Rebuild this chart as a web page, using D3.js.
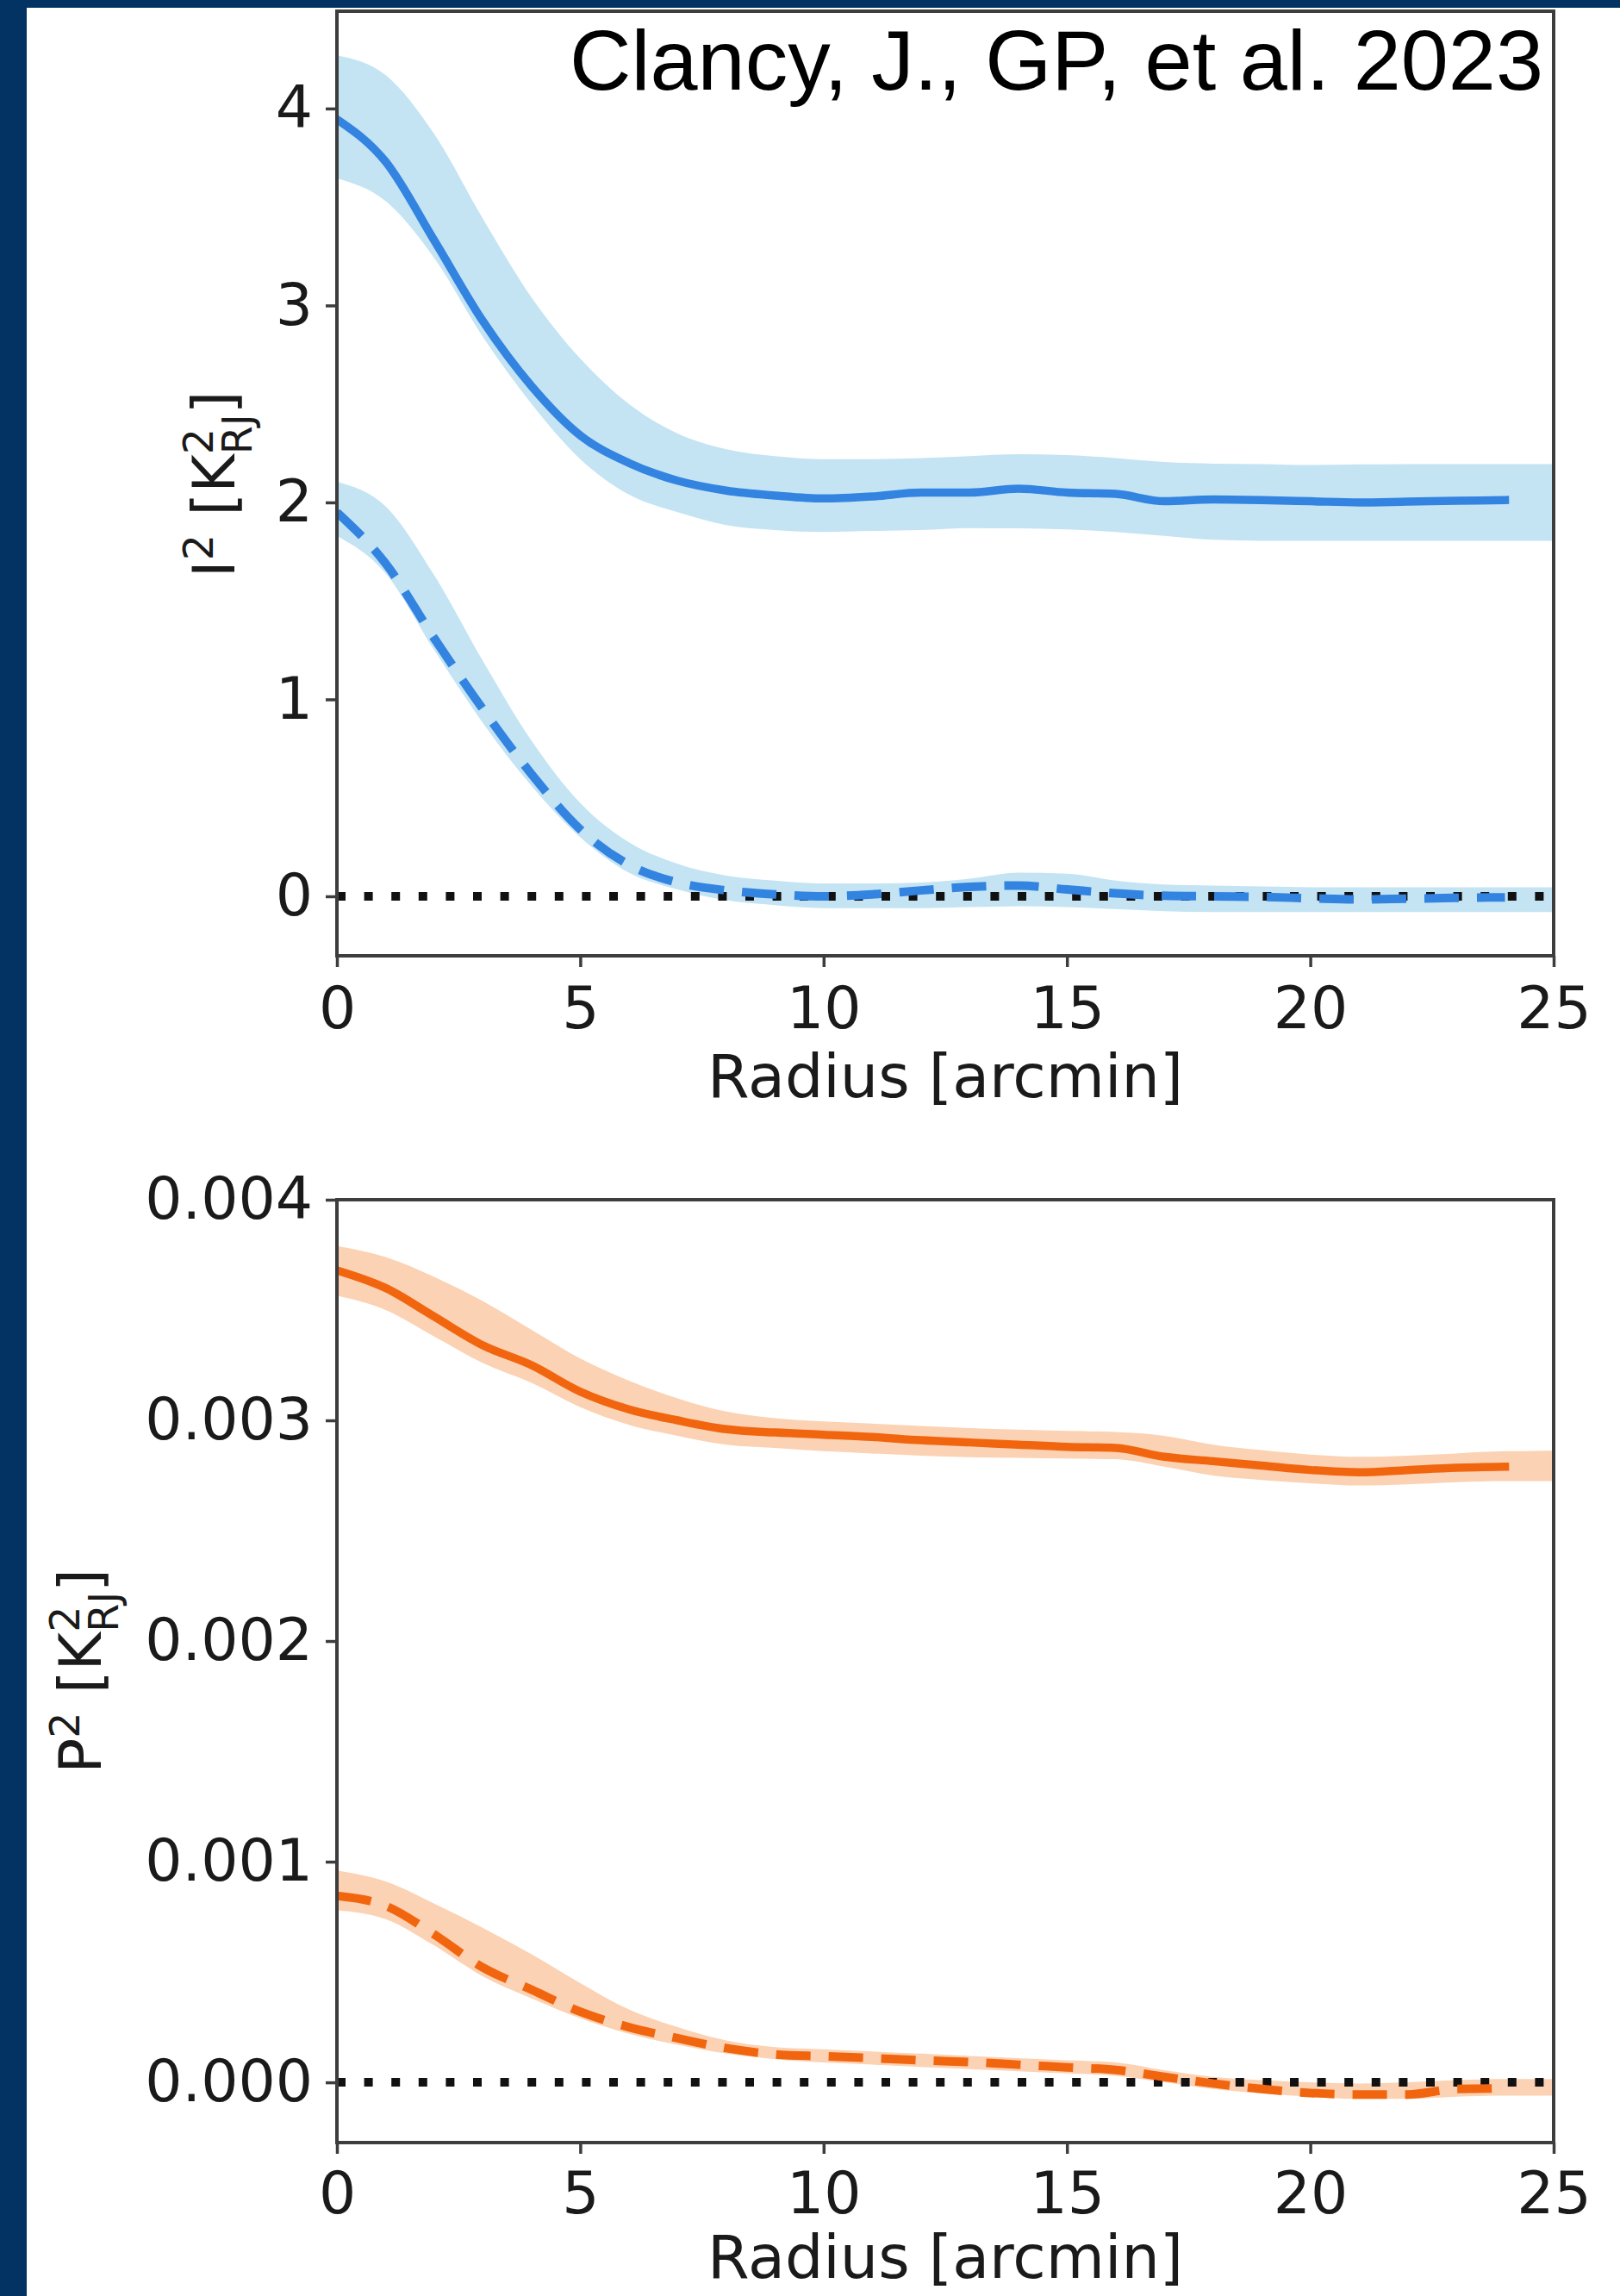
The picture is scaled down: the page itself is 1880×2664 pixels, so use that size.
<!DOCTYPE html>
<html>
<head>
<meta charset="utf-8">
<script src="https://cdn.jsdelivr.net/npm/d3@7"></script>
<style>
  html, body { margin: 0; padding: 0; background: #ffffff; }
  svg { display: block; }
</style>
</head>
<body>
<svg id="fig" width="1880" height="2664"></svg>
<script>
// Radial profiles (radius in arcmin)
const radius = d3.range(0, 25);       // line samples 0..24
const bandRadius = d3.range(0, 26);   // band samples 0..25

// Total intensity I^2 [K_RJ^2]
const intensitySolid = [3.945, 3.73, 3.33, 2.92, 2.59, 2.34, 2.20, 2.11, 2.06, 2.035, 2.02, 2.03, 2.05,
  2.05, 2.07, 2.05, 2.043, 2.006, 2.015, 2.012, 2.006, 2.0, 2.004, 2.008, 2.012];
const intensitySolidHi = [4.27, 4.17, 3.87, 3.44, 3.04, 2.73, 2.50, 2.35, 2.27, 2.235, 2.22, 2.22, 2.225,
  2.235, 2.245, 2.24, 2.225, 2.205, 2.197, 2.195, 2.19, 2.193, 2.195, 2.195, 2.195, 2.195];
const intensitySolidLo = [3.645, 3.53, 3.24, 2.84, 2.50, 2.22, 2.04, 1.95, 1.885, 1.86, 1.85, 1.855, 1.86,
  1.87, 1.868, 1.863, 1.85, 1.83, 1.81, 1.805, 1.805, 1.805, 1.805, 1.805, 1.805, 1.805];

const intensityDashed = [1.95, 1.69, 1.31, 0.95, 0.62, 0.34, 0.16, 0.07, 0.03, 0.01, 0.0, 0.01, 0.03,
  0.048, 0.055, 0.035, 0.015, 0.003, 0.0, -0.003, -0.01, -0.016, -0.012, -0.008, -0.005];
const intensityDashedHi = [2.105, 1.98, 1.63, 1.195, 0.79, 0.474, 0.275, 0.165, 0.105, 0.08, 0.066, 0.066, 0.07,
  0.09, 0.12, 0.115, 0.08, 0.06, 0.055, 0.05, 0.046, 0.046, 0.046, 0.046, 0.046, 0.046];
const intensityDashedLo = [1.83, 1.64, 1.25, 0.88, 0.56, 0.30, 0.12, 0.035, -0.02, -0.045, -0.06, -0.06, -0.06,
  -0.055, -0.05, -0.055, -0.065, -0.075, -0.08, -0.08, -0.08, -0.08, -0.08, -0.08, -0.08, -0.08];

// Polarised intensity P^2 [K_RJ^2]
const polSolid = [0.00368, 0.00360, 0.00347, 0.00334, 0.00325, 0.00313, 0.00305, 0.00300, 0.00296, 0.002945,
  0.002935, 0.002925, 0.00291, 0.00290, 0.00289, 0.00288, 0.002875, 0.002835, 0.002815, 0.002795,
  0.002775, 0.002765, 0.002775, 0.002785, 0.00279];
const polSolidHi = [0.00379, 0.00374, 0.00365, 0.00354, 0.00341, 0.00328, 0.00318, 0.00310, 0.00304, 0.00301,
  0.002995, 0.002985, 0.002975, 0.002965, 0.002958, 0.002952, 0.002947, 0.00293, 0.00289, 0.002865,
  0.002845, 0.002835, 0.00284, 0.00285, 0.00286, 0.002862];
const polSolidLo = [0.003565, 0.00350, 0.00338, 0.00326, 0.00317, 0.00306, 0.00298, 0.00293, 0.00289, 0.002875,
  0.00286, 0.00285, 0.00284, 0.002833, 0.00283, 0.002827, 0.002824, 0.00279, 0.00275, 0.00273,
  0.002715, 0.002705, 0.00271, 0.00272, 0.002725, 0.002725];

const polDashed = [0.000845, 0.00080, 0.00067, 0.00052, 0.00042, 0.00032, 0.00025, 0.00020, 0.000155, 0.000127,
  0.000118, 0.00011, 0.00010, 0.000092, 0.00008, 0.000068, 0.000056, 0.000025, -0.000005, -0.00003,
  -0.000048, -0.000055, -0.000055, -0.00003, -0.000028];
const polDashedHi = [0.00096, 0.00091, 0.00081, 0.00070, 0.00058, 0.00045, 0.00033, 0.00025, 0.00019, 0.00016,
  0.00015, 0.00014, 0.00013, 0.00012, 0.00011, 0.00010, 0.00009, 0.000055, 0.000025, 0.00001,
  0.0, -0.000005, 0.0, 0.00001, 0.000015, 0.000015];
const polDashedLo = [0.00078, 0.00074, 0.00062, 0.00048, 0.00038, 0.00029, 0.00022, 0.00017, 0.00013, 0.000105,
  0.00009, 0.00008, 0.00007, 0.00006, 0.00005, 0.00004, 0.00003, 0.0, -0.00003, -0.00005,
  -0.000065, -0.000075, -0.000075, -0.000065, -0.00006, -0.00006];

// Ticks
const xTicks = [0, 5, 10, 15, 20, 25];
const intensityTicks = [0, 1, 2, 3, 4];
const polTicks = [0, 0.001, 0.002, 0.003, 0.004];

// Colours
const navy = "#023362";
const blueLine = "#3383e1";
const blueBand = "#c4e4f3";
const orangeLine = "#f2650f";
const orangeBand = "#fbd2b4";
const spineColor = "#3d3d3d";
const textFont = "'DejaVu Sans', sans-serif";

const svg = d3.select("#fig");

// Slide frame: navy strips on the left and top
svg.append("rect").attr("x", 0).attr("y", 0).attr("width", 1880).attr("height", 2664).attr("fill", "#ffffff");
svg.append("rect").attr("x", 0).attr("y", 0).attr("width", 31).attr("height", 2664).attr("fill", navy);
svg.append("rect").attr("x", 0).attr("y", 0).attr("width", 1880).attr("height", 9).attr("fill", navy);

const x = d3.scaleLinear().domain([0, 25]).range([391, 1803]);

function panel(opts) {
  const { y, id, ticks, fmt, solid, solidLo, solidHi, dashed, dashedLo, dashedHi,
          lineColor, bandColor, xLabelBaseline, tickPad } = opts;
  const [yBottom, yTop] = y.range();
  const g = svg.append("g");

  const clipId = "clip-" + id;
  g.append("clipPath").attr("id", clipId)
    .append("rect").attr("x", x(0)).attr("y", yTop)
    .attr("width", x(25) - x(0)).attr("height", yBottom - yTop);

  const plot = g.append("g").attr("clip-path", `url(#${clipId})`);

  const area = (lo, hi) => d3.area()
    .curve(d3.curveMonotoneX)
    .x((d, i) => x(bandRadius[i]))
    .y0((d, i) => y(lo[i]))
    .y1((d, i) => y(hi[i]))(bandRadius);

  plot.append("path").attr("d", area(solidLo, solidHi)).attr("fill", bandColor);
  plot.append("path").attr("d", area(dashedLo, dashedHi)).attr("fill", bandColor);

  // zero reference
  plot.append("line")
    .attr("x1", x(0)).attr("x2", x(25)).attr("y1", y(0)).attr("y2", y(0))
    .attr("stroke", "#111").attr("stroke-width", 10).attr("stroke-dasharray", "10,21.6");

  const line = d3.line().curve(d3.curveMonotoneX).x((d, i) => x(radius[i])).y(d => y(d));

  plot.append("path").attr("d", line(dashed))
    .attr("fill", "none").attr("stroke", lineColor).attr("stroke-width", 10)
    .attr("stroke-dasharray", "40,21").attr("stroke-linejoin", "round");
  plot.append("path").attr("d", line(solid))
    .attr("fill", "none").attr("stroke", lineColor).attr("stroke-width", 9.5)
    .attr("stroke-linejoin", "round").attr("stroke-linecap", "square");

  // axes
  const yAxis = g.append("g").attr("transform", `translate(${x(0)},0)`)
    .call(d3.axisLeft(y).tickValues(ticks).tickFormat(fmt).tickSize(13).tickPadding(15));
  const xAxis = g.append("g").attr("transform", `translate(0,${yBottom})`)
    .call(d3.axisBottom(x).tickValues(xTicks).tickFormat(d3.format("d")).tickSize(13).tickPadding(tickPad));
  [yAxis, xAxis].forEach(a => {
    a.select(".domain").remove();
    a.selectAll(".tick line").attr("stroke", spineColor).attr("stroke-width", 3.5);
    a.selectAll(".tick text").attr("fill", "#1a1a1a")
      .style("font-family", textFont).style("font-size", "68px");
  });

  g.append("rect").attr("x", x(0)).attr("y", yTop)
    .attr("width", x(25) - x(0)).attr("height", yBottom - yTop)
    .attr("fill", "none").attr("stroke", spineColor).attr("stroke-width", 4);

  g.append("text")
    .attr("x", (x(0) + x(25)) / 2).attr("y", xLabelBaseline)
    .attr("text-anchor", "middle").attr("fill", "#1a1a1a")
    .style("font-family", textFont).style("font-size", "70px")
    .text("Radius [arcmin]");
  return g;
}

// y-axis title with superscripts / subscript: <sym>² [K²_RJ]
function yTitle(sym, bx, cy) {
  const t = svg.append("text")
    .attr("transform", `translate(${bx},${cy}) rotate(-90)`)
    .attr("text-anchor", "middle").attr("fill", "#1a1a1a")
    .style("font-family", textFont).style("font-size", "68px");
  const up = 25, down = 20;
  t.append("tspan").text(sym);
  t.append("tspan").attr("dy", -up).style("font-size", "47.6px").text("2");
  t.append("tspan").attr("dy", up).text(" [K");
  const sup = t.append("tspan").attr("dy", -up).style("font-size", "47.6px").text("2");
  const w = sup.node().getComputedTextLength();
  t.append("tspan").attr("dx", -w).attr("dy", up + down).style("font-size", "47.6px").text("RJ");
  t.append("tspan").attr("dy", -down).text("]");
}

const yI = d3.scaleLinear().domain([-0.302, 4.494]).range([1109, 13]);
panel({
  y: yI, id: "intensity", ticks: intensityTicks, fmt: d3.format("d"),
  solid: intensitySolid, solidLo: intensitySolidLo, solidHi: intensitySolidHi,
  dashed: intensityDashed, dashedLo: intensityDashedLo, dashedHi: intensityDashedHi,
  lineColor: blueLine, bandColor: blueBand, xLabelBaseline: 1273, tickPad: 23
});
yTitle("I", 272, 562);

const yP = d3.scaleLinear().domain([-0.000273, 0.004]).range([2486, 1392]);
panel({
  y: yP, id: "pol", ticks: polTicks, fmt: d3.format(".3f"),
  solid: polSolid, solidLo: polSolidLo, solidHi: polSolidHi,
  dashed: polDashed, dashedLo: polDashedLo, dashedHi: polDashedHi,
  lineColor: orangeLine, bandColor: orangeBand, xLabelBaseline: 2643, tickPad: 21
});
yTitle("P", 117, 1939);

// citation
svg.append("text")
  .attr("x", 1791).attr("y", 104).attr("text-anchor", "end").attr("fill", "#000")
  .style("font-family", "'Liberation Sans', Arial, sans-serif").style("font-size", "99px")
  .text("Clancy, J., GP, et al. 2023");
</script>
</body>
</html>
